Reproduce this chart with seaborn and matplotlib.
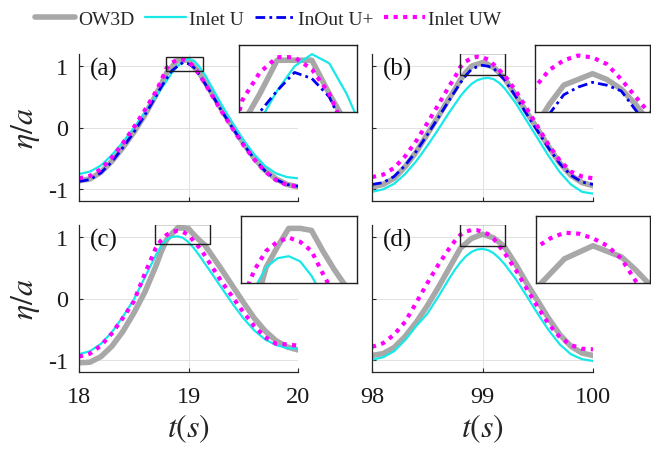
import matplotlib
matplotlib.use("Agg")

import matplotlib.pyplot as plt
from matplotlib.lines import Line2D
from matplotlib.patches import Rectangle
import seaborn as sns

# ---- data ----
t_early = [18.0, 18.1, 18.2, 18.3, 18.4, 18.5, 18.6, 18.7, 18.75, 18.8, 18.85,
           18.9, 18.95, 19.0, 19.05, 19.1, 19.15, 19.2, 19.3, 19.4, 19.5, 19.6,
           19.7, 19.8, 19.9, 20.0]
t_late = [98.0, 98.1, 98.2, 98.3, 98.4, 98.5, 98.6, 98.7, 98.75, 98.8, 98.85,
          98.9, 98.95, 99.0, 99.05, 99.1, 99.15, 99.2, 99.3, 99.4, 99.5, 99.6,
          99.7, 99.8, 99.9, 100.0]

# (a)
a_ow3d = [-0.87, -0.84, -0.73, -0.55, -0.33, -0.08, 0.20, 0.52, 0.70, 0.89, 0.99,
          1.10, 1.10, 1.10, 0.99, 0.89, 0.74, 0.60, 0.30, 0.02, -0.25, -0.50,
          -0.70, -0.84, -0.93, -0.97]
a_inlet_u = [-0.76, -0.72, -0.62, -0.45, -0.24, -0.01, 0.24, 0.50, 0.63, 0.76, 0.90,
             1.00, 1.08, 1.12, 1.09, 0.99, 0.86, 0.70, 0.38, 0.08, -0.20, -0.44,
             -0.63, -0.75, -0.81, -0.83]
a_inout = [-0.88, -0.85, -0.74, -0.56, -0.33, -0.08, 0.20, 0.50, 0.66, 0.80, 0.93,
           1.00, 1.06, 1.04, 0.98, 0.86, 0.72, 0.58, 0.28, 0.00, -0.27, -0.51,
           -0.71, -0.85, -0.93, -0.96]
a_inlet_uw = [-0.83, -0.79, -0.68, -0.49, -0.26, 0.00, 0.28, 0.58, 0.76, 0.97, 1.06,
              1.11, 1.11, 1.07, 0.99, 0.86, 0.72, 0.57, 0.27, -0.01, -0.28, -0.52,
              -0.72, -0.86, -0.94, -0.96]

# (b)
b_ow3d = [-0.97, -0.93, -0.83, -0.64, -0.40, -0.11, 0.18, 0.48, 0.62, 0.78, 0.90,
          1.00, 1.03, 1.06, 1.03, 0.98, 0.90, 0.80, 0.53, 0.25, -0.03, -0.32,
          -0.58, -0.78, -0.90, -0.95]
b_inlet_u = [-1.05, -1.01, -0.92, -0.76, -0.55, -0.30, -0.03, 0.25, 0.38, 0.51, 0.62,
             0.71, 0.77, 0.80, 0.81, 0.79, 0.73, 0.64, 0.40, 0.11, -0.18, -0.47,
             -0.73, -0.93, -1.05, -1.08]
b_inout = [-0.93, -0.90, -0.80, -0.62, -0.39, -0.12, 0.16, 0.45, 0.59, 0.73, 0.85,
           0.95, 0.99, 1.015, 1.00, 0.97, 0.87, 0.78, 0.51, 0.22, -0.06, -0.34,
           -0.59, -0.78, -0.89, -0.93]
b_inlet_uw = [-0.81, -0.77, -0.66, -0.47, -0.22, 0.07, 0.37, 0.68, 0.82, 0.99, 1.08,
              1.13, 1.155, 1.145, 1.11, 1.03, 0.94, 0.85, 0.60, 0.31, 0.01, -0.29,
              -0.54, -0.72, -0.80, -0.83]

# (c)
c_ow3d = [-1.05, -1.04, -0.95, -0.78, -0.54, -0.24, 0.10, 0.52, 0.76, 0.96, 1.06,
          1.15, 1.15, 1.14, 1.04, 0.95, 0.87, 0.74, 0.48, 0.21, -0.06, -0.32,
          -0.53, -0.69, -0.79, -0.84]
c_inlet_u = [-0.91, -0.86, -0.74, -0.55, -0.30, -0.02, 0.34, 0.70, 0.86, 0.96, 1.005,
             1.015, 0.99, 0.92, 0.82, 0.70, 0.57, 0.44, 0.18, -0.08, -0.32, -0.52,
             -0.67, -0.76, -0.81, -0.82]
c_inlet_uw = [-0.95, -0.90, -0.77, -0.57, -0.32, -0.05, 0.40, 0.82, 0.95, 1.04, 1.085,
              1.105, 1.085, 1.04, 0.93, 0.83, 0.70, 0.56, 0.28, 0.03, -0.22, -0.45,
              -0.63, -0.74, -0.75, -0.77]

# (d)
d_ow3d = [-0.93, -0.90, -0.80, -0.62, -0.39, -0.12, 0.18, 0.50, 0.66, 0.82, 0.90,
          0.98, 1.015, 1.05, 1.02, 0.99, 0.92, 0.84, 0.56, 0.25, -0.04, -0.33,
          -0.59, -0.78, -0.89, -0.93]
d_inlet_u = [-1.00, -0.96, -0.86, -0.68, -0.45, -0.25, 0.03, 0.33, 0.47, 0.59, 0.69,
             0.76, 0.80, 0.81, 0.79, 0.74, 0.66, 0.56, 0.32, 0.04, -0.25, -0.52,
             -0.75, -0.91, -0.99, -1.02]
d_inlet_uw = [-0.79, -0.73, -0.59, -0.38, -0.07, 0.25, 0.55, 0.82, 0.94, 1.04, 1.09,
              1.12, 1.115, 1.09, 1.05, 0.98, 0.86, 0.74, 0.47, 0.16, -0.14, -0.42,
              -0.63, -0.76, -0.82, -0.83]

series_names = ["OW3D", "Inlet U", "InOut U+", "Inlet UW"]
panel_labels = ["(a)", "(b)", "(c)", "(d)"]

panels = [
    (t_early, {"OW3D": a_ow3d, "Inlet U": a_inlet_u, "InOut U+": a_inout, "Inlet UW": a_inlet_uw}),
    (t_late, {"OW3D": b_ow3d, "Inlet U": b_inlet_u, "InOut U+": b_inout, "Inlet UW": b_inlet_uw}),
    (t_early, {"OW3D": c_ow3d, "Inlet U": c_inlet_u, "Inlet UW": c_inlet_uw}),
    (t_late, {"OW3D": d_ow3d, "Inlet U": d_inlet_u, "Inlet UW": d_inlet_uw}),
]

# ---- styling / layout ----
STYLES = {
    "OW3D": dict(color="#a8a8a8", linewidth=4.0, linestyle="-"),
    "Inlet U": dict(color="#18e8e8", linewidth=1.6, linestyle="-"),
    "InOut U+": dict(color="#0000f0", linewidth=2.0, linestyle=(0, (3.5, 1.5, 1, 1.5))),
    "Inlet UW": dict(color="#ff00ff", linewidth=3.0, linestyle=(0, (1, 1.3))),
}

W, H = 651, 452
MAIN_BOX = [(79, 55, 298, 202), (372, 55, 593, 202),
            (79, 226, 298, 373), (372, 226, 593, 373)]
INSET_BOX = [(239, 46, 357, 113), (535, 46, 650, 113),
             (241, 217, 357, 284), (536, 217, 650, 284)]
ZOOM = [(18.79, 19.13, 0.93, 1.15), (98.80, 99.20, 0.86, 1.21),
        (18.69, 19.20, 0.885, 1.21), (98.80, 99.20, 0.85, 1.21)]
XLIMS = [(18, 20), (98, 100), (18, 20), (98, 100)]


def px_rect(box):
    x0, y0, x1, y1 = box
    return [x0 / W, 1 - y1 / H, (x1 - x0) / W, (y1 - y0) / H]


def draw_series(ax, t, data):
    for name in series_names:
        if name not in data:
            continue
        sns.lineplot(x=t, y=data[name], ax=ax, estimator=None, sort=False,
                     legend=False, **STYLES[name])


sns.set_theme(style="whitegrid")
plt.rcParams["font.family"] = ["Liberation Serif", "DejaVu Serif"]
plt.rcParams["mathtext.fontset"] = "stix"
plt.rcParams["axes.unicode_minus"] = False

fig = plt.figure(figsize=(W / 100, H / 100), dpi=100)
fig.patch.set_facecolor("white")

for i, (t, data) in enumerate(panels):
    ax = fig.add_axes(px_rect(MAIN_BOX[i]))
    ax.set_facecolor("white")
    draw_series(ax, t, data)
    ax.set_xlim(*XLIMS[i])
    ax.set_ylim(-1.2, 1.2)
    ax.set_xticks([XLIMS[i][0], XLIMS[i][0] + 1, XLIMS[i][1]])
    ax.set_yticks([-1, 0, 1])
    ax.grid(True, color="#e2e2e2", linewidth=0.7)
    for side in ["top", "right"]:
        ax.spines[side].set_visible(False)
    for side in ["left", "bottom"]:
        ax.spines[side].set_color("#262626")
        ax.spines[side].set_linewidth(0.9)
    ax.tick_params(direction="in", length=3, width=0.8, color="#262626",
                   labelsize=17.5, labelcolor="#1a1a1a", left=True, bottom=True)
    ax.tick_params(axis="y", pad=8)
    ax.tick_params(axis="x", pad=10)
    if i in (1, 3):
        ax.set_yticklabels([])
    else:
        ax.set_ylabel(r"$\eta/a$", fontsize=23)
        ax.yaxis.set_label_coords(-0.17, 0.5)
    if i in (0, 1):
        ax.set_xticklabels([])
    else:
        ax.set_xlabel(r"$t(s)$", fontsize=23)
        ax.xaxis.set_label_coords(0.5, -0.27)
    ax.text(0.05, 0.9, panel_labels[i], transform=ax.transAxes, fontsize=18,
            ha="left", va="center", color="#111111")

    x0, x1, y0, y1 = ZOOM[i]
    ax.add_patch(Rectangle((x0, y0), x1 - x0, y1 - y0, fill=False,
                           edgecolor="#202020", linewidth=1.0, zorder=6))

    # zoomed inset
    axi = fig.add_axes(px_rect(INSET_BOX[i]))
    axi.set_facecolor("white")
    draw_series(axi, t, data)
    axi.set_xlim(x0, x1)
    axi.set_ylim(y0, y1)
    axi.set_xticks([])
    axi.set_yticks([])
    axi.grid(False)
    for sp in axi.spines.values():
        sp.set_visible(True)
        sp.set_color("#202020")
        sp.set_linewidth(1.0)

handles = [Line2D([], [], **STYLES[n]) for n in series_names]
fig.legend(handles, series_names, loc="center", bbox_to_anchor=(268 / W, 1 - 20 / H),
           ncol=4, frameon=False, fontsize=14, handlelength=2.1,
           handletextpad=0.15, columnspacing=0.55, borderpad=0.2)

fig.savefig("out.png", dpi=100, facecolor="white")
